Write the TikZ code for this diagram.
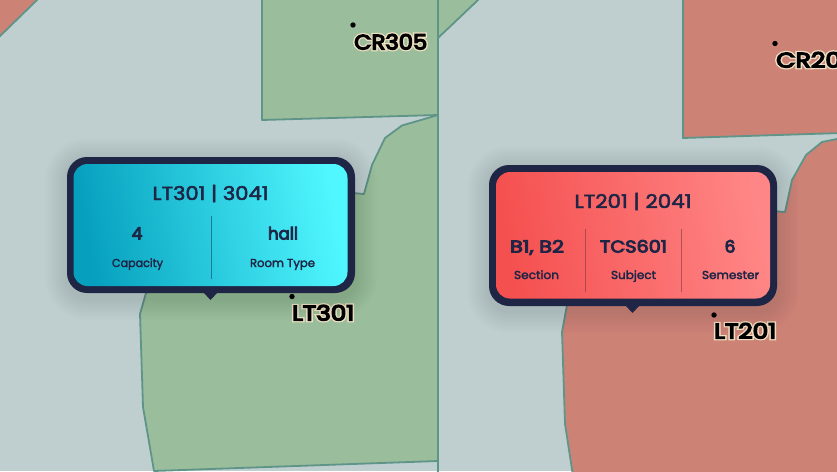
\documentclass[tikz,border=0pt]{standalone}
\usepackage{fontspec}
\usepackage{graphicx}
\setmainfont{Poppins}
\newfontfamily\titlefam{Poppins}[FakeBold=2.5]
\newfontfamily\valuefam{Poppins}[FakeBold=5]
\newfontfamily\capfam{Poppins}[FakeBold=2.5]
\newfontfamily\labelfam{Poppins}[FakeBold=6]
\newfontfamily\halofam{Poppins}[FakeBold=18]
\definecolor{bgc}{HTML}{BFCFCF}
\definecolor{greenz}{HTML}{9ABD9B}
\definecolor{redz}{HTML}{CD8276}
\definecolor{edgec}{HTML}{5F9489}
\definecolor{ink}{HTML}{1E2545}
\definecolor{halo}{HTML}{EFE0C2}
\definecolor{cyanA}{HTML}{06A0BE}
\definecolor{cyanB}{HTML}{50F7FF}
\definecolor{redA}{HTML}{F55050}
\definecolor{redB}{HTML}{FF8686}
\newsavebox{\fitbox}
\newcommand{\fitw}[2]{\sbox{\fitbox}{#2}\pgfmathsetmacro{\fitr}{#1/\wd\fitbox}\scalebox{\fitr}[1]{\usebox{\fitbox}}}
\tikzset{
  zone/.style={draw=edgec,line width=1.8pt,line join=round},
  greenzone/.style={zone,fill=greenz},
  redzone/.style={zone,fill=redz},
  pin/.style={circle,fill=black,inner sep=0pt,minimum size=5.4pt},
  maplabel/.style={inner sep=0pt,anchor=base west,text=black,font=\labelfam\fontsize{21}{21}\selectfont},
  maphalo/.style={inner sep=0pt,anchor=base west,text=halo,font=\halofam\fontsize{21}{21}\selectfont},
  frame/.style={fill=ink},
  title/.style={inner sep=0pt,anchor=base,text=ink,font=\titlefam\fontsize{19}{19}\selectfont},
  value/.style={inner sep=0pt,anchor=base,text=ink,font=\valuefam\fontsize{17}{17}\selectfont},
  caption/.style={inner sep=0pt,anchor=base,text=ink,font=\capfam\fontsize{11.5}{11.5}\selectfont},
  softshadow/.style={fill=black,opacity=0.008},
}
\begin{document}
\begin{tikzpicture}[x=1pt,y=-1pt]
\useasboundingbox (0,0) rectangle (837,471);
\path[fill=bgc] (0,0) rectangle (837,471);
% map zones
\path[redzone] (-5,41) -- (37,0) -- (37,-5) -- (-5,-5) -- cycle;
\path[greenzone] (262,-5) -- (262,120) -- (438,115) -- (438,-5) -- cycle;
\path[greenzone] (438,38) -- (478,0) -- (478,-5) -- (438,-5) -- cycle;
\path[greenzone] (438,115) -- (402,125.5) -- (385,138) -- (372,165) -- (364,194) -- (352,193)
  -- (146,293) -- (140,314) -- (143,407) -- (154,471) -- (438,461) -- cycle;
\draw[edgec,line width=1.8pt] (438,461) -- (438,476);
\path[redzone] (683,-5) -- (683,138) -- (842,133) -- (842,-5) -- cycle;
\path[redzone] (842,138) -- (822,142) -- (806,155) -- (792,180) -- (785,212) -- (772,211)
  -- (567,305) -- (562,332) -- (565,424) -- (573,476) -- (842,476) -- cycle;
% map pins and labels
\node[pin] (pinA) at (353,25) {};
\node[maphalo] (haloA) at (354,49.5) {\fitw{73}{CR305}};
\node[maplabel] (labA) at (354,49.5) {\fitw{73}{CR305}};
\node[pin] (pinB) at (775,43.5) {};
\node[maphalo] (haloB) at (776,67.5) {\fitw{65}{CR20}};
\node[maplabel] (labB) at (776,67.5) {\fitw{65}{CR20}};
\node[pin] (pinC) at (292,296.5) {};
\node[maphalo] (haloC) at (292,320.5) {\fitw{62}{LT301}};
\node[maplabel] (labC) at (292,320.5) {\fitw{62}{LT301}};
\node[pin] (pinD) at (714,315) {};
\node[maphalo] (haloD) at (714,338.5) {\fitw{62}{LT201}};
\node[maplabel] (labD) at (714,338.5) {\fitw{62}{LT201}};
% soft shadows
\foreach \g in {2,4,...,22}{
  \path[softshadow,rounded corners={20pt+\g pt}] (67-\g,157+3-\g) rectangle (355+\g,293+5+\g);
  \path[softshadow,rounded corners={20pt+\g pt}] (489-\g,165+3-\g) rectangle (777+\g,306+5+\g);
}
% left tooltip
\path[frame,rounded corners=20pt] (67,157) rectangle (355,293);
\path[frame] (203,292) -- (218,292) -- (210.5,300) -- cycle;
\path[rounded corners=14pt,left color=cyanA,right color=cyanB,shading angle=100] (73.5,164) rectangle (347.5,286);
\node[title] (ltitle) at (210.5,200) {\fitw{116}{LT301 | 3041}};
\node[value] (lv1) at (137,239.5) {4};
\node[value] (lv2) at (283,239.5) {\fitw{30}{hall}};
\node[caption] (lc1) at (137.5,267) {\fitw{51}{Capacity}};
\node[caption] (lc2) at (282.5,267) {\fitw{65}{Room Type}};
\coordinate (ld1) at (211,216);
\coordinate (ld2) at (211,279);
\draw[ink!55!cyanA,opacity=.7,line width=1pt] (ld1) -- (ld2);
% right tooltip
\path[frame,rounded corners=20pt] (489,165) rectangle (777,306);
\path[frame] (625,305) -- (640,305) -- (632.5,313) -- cycle;
\path[rounded corners=14pt,left color=redA,right color=redB,shading angle=100] (496,172) rectangle (770,298.5);
\node[title] (rtitle) at (633,208) {\fitw{117}{LT201 | 2041}};
\node[value] (rv1) at (537,252.5) {\fitw{54}{B1, B2}};
\node[value] (rv2) at (633.5,252.5) {\fitw{67}{TCS601}};
\node[value] (rv3) at (730,252.5) {6};
\node[caption] (rc1) at (536.5,279) {\fitw{45}{Section}};
\node[caption] (rc2) at (633.5,279) {\fitw{45}{Subject}};
\node[caption] (rc3) at (730.5,279) {\fitw{57}{Semester}};
\coordinate (rd1) at (585,229);
\coordinate (rd2) at (585,292);
\coordinate (rd3) at (681,229);
\coordinate (rd4) at (681,292);
\draw[ink!55!redA,opacity=.6,line width=1pt] (rd1) -- (rd2);
\draw[ink!55!redA,opacity=.6,line width=1pt] (rd3) -- (rd4);
\end{tikzpicture}
\end{document}
